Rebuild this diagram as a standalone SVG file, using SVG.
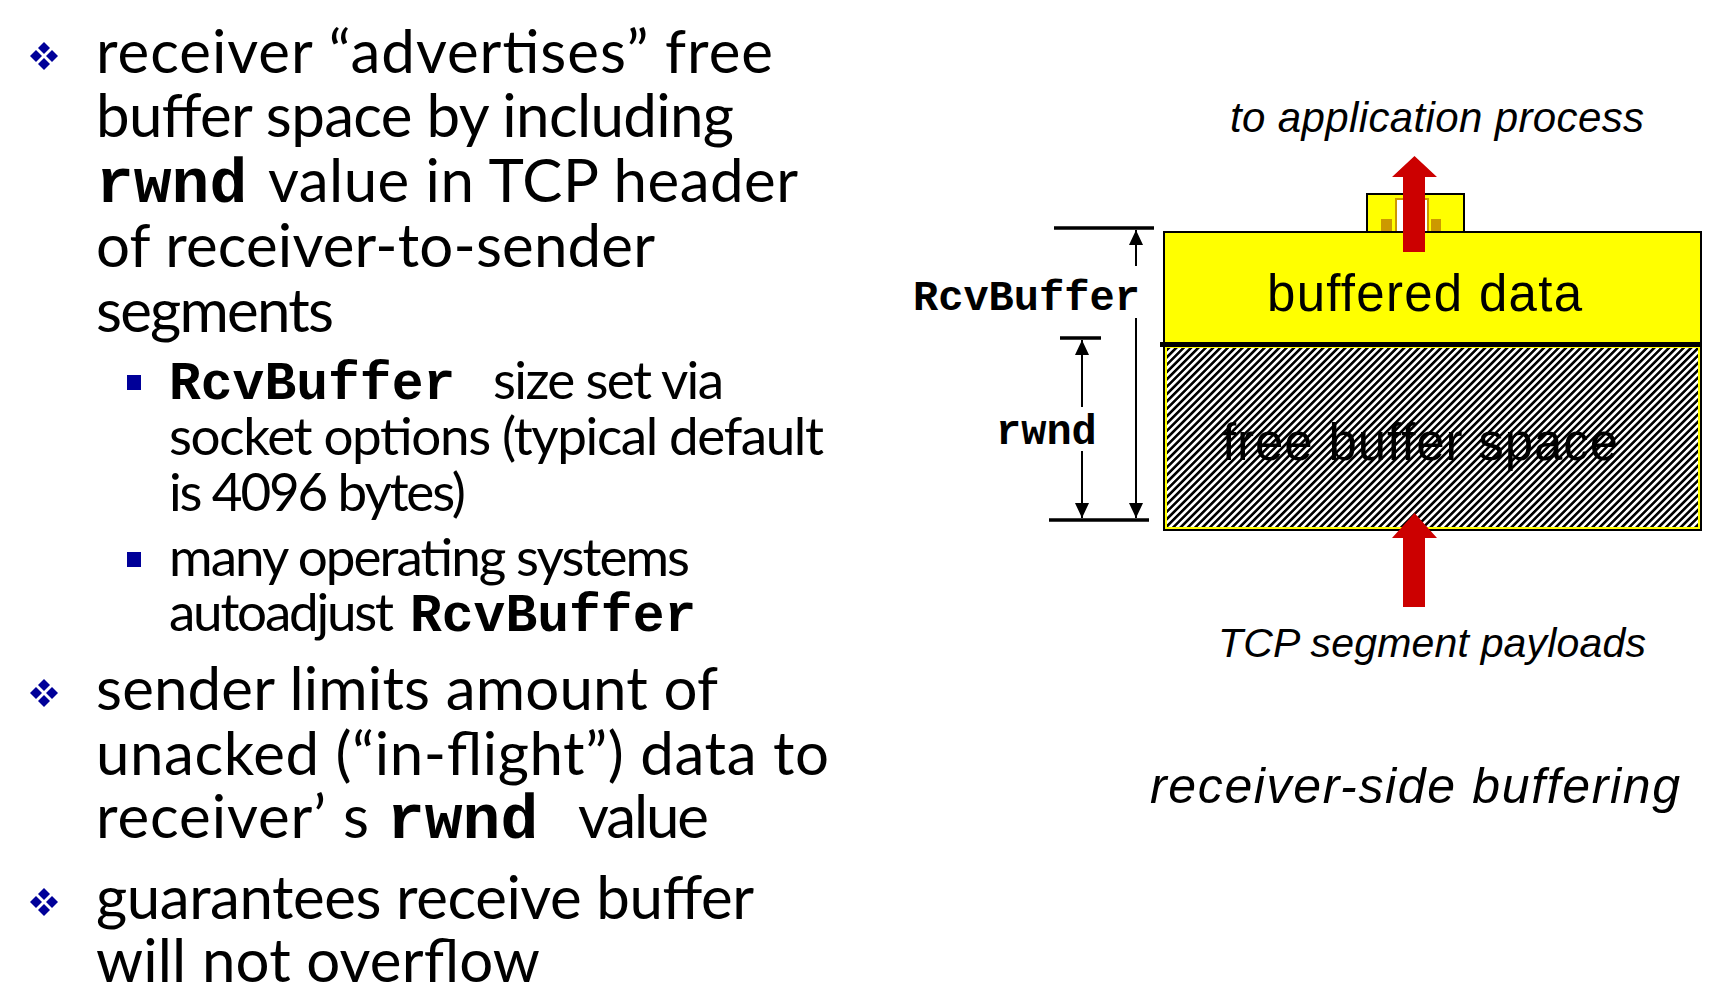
<svg xmlns="http://www.w3.org/2000/svg" xmlns:xlink="http://www.w3.org/1999/xlink" width="1719" height="992" viewBox="0 0 1719 992">
<style>
.t{font-family:Lato,"Open Sans","Liberation Sans",sans-serif;fill:#000}
.m{font-size:60px}
.s{font-size:53px}
.mono{font-family:"Liberation Mono","Courier New",monospace;font-weight:bold;fill:#000}
.it{font-family:"Liberation Sans",Arial,sans-serif;font-style:italic;fill:#000}
.lbl{font-family:"Liberation Sans",Arial,sans-serif;fill:#000}
.dim{stroke:#000;stroke-width:2;fill:none}
.tick{stroke:#000;stroke-width:3.5}
.red{fill:#cc0000}
.sq{fill:#000099}
</style>
<defs>
<path id="dia" d="M0,-6 L6,0 L0,6 L-6,0Z" fill="#000099"/>
<g id="bul"><use href="#dia" x="0" y="-8"/><use href="#dia" x="-8" y="0"/><use href="#dia" x="8" y="0"/><use href="#dia" x="0" y="8"/></g>
<pattern id="hatch" patternUnits="userSpaceOnUse" width="5.2" height="5.2" patternTransform="rotate(45)"><rect width="5.2" height="5.2" fill="#fff"/><rect width="2.6" height="5.2" fill="#000"/></pattern>
<marker id="ah" markerUnits="userSpaceOnUse" markerWidth="15" markerHeight="14" viewBox="0 0 15 14" refX="15" refY="7" orient="auto"><path d="M0,0 L15,7 L0,14 Z" fill="#000"/></marker>
</defs>

<g id="text-left">
<use href="#bul" x="44" y="56"/>
<text class="t m"><tspan x="96" y="73" textLength="677">receiver “advertises” free</tspan><tspan x="96" y="137" textLength="638">buffer space by including</tspan><tspan class="mono" font-size="63" x="96" y="202">rwnd</tspan><tspan x="268" y="202" textLength="530">value in TCP header</tspan><tspan x="96" y="267" textLength="559">of receiver-to-sender</tspan><tspan x="96" y="332" textLength="238">segments</tspan></text>
<rect class="sq" x="127" y="375" width="14" height="15"/>
<text class="t s"><tspan class="mono" font-size="53" x="169" y="399">RcvBuffer</tspan><tspan x="493" y="399" textLength="231">size set via</tspan><tspan x="169" y="455" textLength="655">socket options (typical default</tspan><tspan x="169" y="511" textLength="297">is 4096 bytes)</tspan></text>
<rect class="sq" x="127" y="552" width="14" height="15"/>
<text class="t s"><tspan x="169" y="576" textLength="521">many operating systems</tspan><tspan x="169" y="631" textLength="225">autoadjust</tspan><tspan class="mono" font-size="53" x="410" y="631">RcvBuffer</tspan></text>
<use href="#bul" x="44" y="693"/>
<text class="t m"><tspan x="96" y="710" textLength="622">sender limits amount of</tspan><tspan x="96" y="775" textLength="733">unacked (“in-flight”) data to</tspan><tspan x="96" y="838" textLength="230">receiver’</tspan><tspan x="343" y="838">s</tspan><tspan class="mono" font-size="63" x="387" y="838">rwnd</tspan><tspan x="578" y="838" textLength="131">value</tspan></text>
<use href="#bul" x="44" y="902"/>
<text class="t m"><tspan x="96" y="919" textLength="658">guarantees receive buffer</tspan><tspan x="96" y="982" textLength="444">will not overflow</tspan></text>
</g>

<g id="buffer-small">
<rect x="1367" y="194" width="97" height="38" fill="#ffff00" stroke="#000" stroke-width="2"/>
<rect x="1396" y="199" width="32" height="33" fill="#fff" stroke="#cc9900" stroke-width="2"/>
<rect x="1381" y="219" width="11" height="13" fill="#cc9900"/>
<rect x="1431" y="219" width="10" height="13" fill="#cc9900"/>
</g>

<g id="buffered-data">
<rect x="1164" y="232" width="537" height="113" fill="#ffff00" stroke="#000" stroke-width="2"/>
<text class="lbl" font-size="51" x="1267" y="311" textLength="315">buffered data</text>
</g>

<g id="free-buffer-space">
<rect x="1164" y="345" width="537" height="185" fill="url(#hatch)" stroke="#000" stroke-width="2"/>
<rect x="1166" y="347" width="533" height="181" fill="none" stroke="#ffff00" stroke-width="2"/>
<line x1="1160" y1="344.5" x2="1701" y2="344.5" stroke="#000" stroke-width="5"/>
<text class="lbl" font-size="51" x="1222" y="460" textLength="396">free buffer space</text>
</g>

<g id="labels">
<text class="it" font-size="42" x="1230" y="132" textLength="414">to application process</text>
<text class="it" font-size="41" x="1218" y="657" textLength="428">TCP segment payloads</text>
<text class="it" font-size="50" x="1150" y="803" textLength="530">receiver-side buffering</text>
<text class="mono" font-size="42" x="913" y="310">RcvBuffer</text>
<text class="mono" font-size="42" x="996" y="444">rwnd</text>
</g>

<g id="connectors">
<polygon class="red" points="1403,252 1403,177 1392,177 1414.5,156 1437,177 1425,177 1425,252"/>
<polygon class="red" points="1403,607 1403,538 1392,538 1414.5,513 1437,538 1425,538 1425,607"/>
<line class="tick" x1="1054" y1="228" x2="1154" y2="228"/>
<line class="tick" x1="1049" y1="520" x2="1149" y2="520"/>
<line class="tick" x1="1060" y1="338" x2="1101" y2="338"/>
<line class="dim" x1="1136" y1="266" x2="1136" y2="230" marker-end="url(#ah)"/>
<line class="dim" x1="1136" y1="318" x2="1136" y2="518" marker-end="url(#ah)"/>
<line class="dim" x1="1082" y1="407" x2="1082" y2="340" marker-end="url(#ah)"/>
<line class="dim" x1="1082" y1="451" x2="1082" y2="518" marker-end="url(#ah)"/>
</g>
</svg>
